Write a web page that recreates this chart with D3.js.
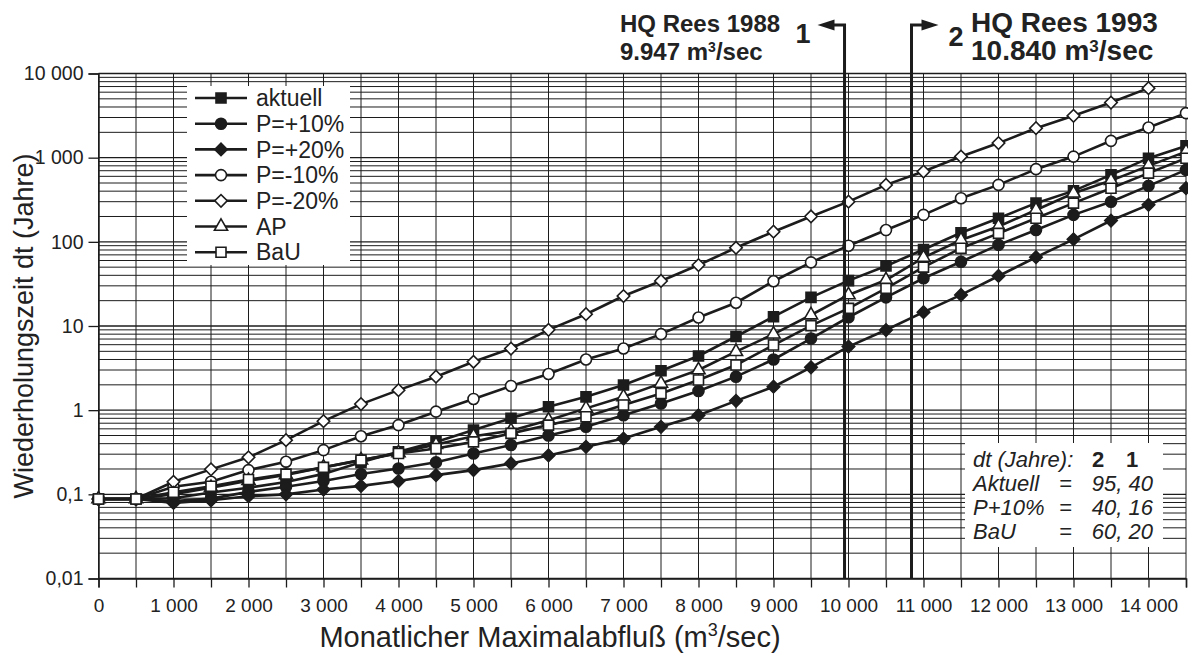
<!DOCTYPE html>
<html>
<head>
<meta charset="utf-8">
<script src="https://cdn.jsdelivr.net/npm/d3@7"></script>
<style>
  body { margin: 0; background: #fff; }
  svg { display: block; font-family: "Liberation Sans", Arial, sans-serif; }
</style>
</head>
<body>
<svg id="chart" width="1188" height="657"></svg>
<script>
// Abfluss (m3/sec) an den Stützstellen
const abfluss = [0, 500, 1000, 1500, 2000, 2500, 3000, 3500, 4000, 4500, 5000, 5500, 6000, 6500, 7000,
  7500, 8000, 8500, 9000, 9500, 10000, 10500, 11000, 11500, 12000, 12500, 13000, 13500, 14000, 14500];

// Wiederholungszeit (Jahre) je Szenario
const aktuell = [0.088, 0.088, 0.09, 0.105, 0.12, 0.14, 0.175, 0.24, 0.32, 0.42, 0.58, 0.80, 1.10, 1.44, 1.99,
  2.94, 4.4, 7.5, 12.9, 21.9, 34.6, 51.7, 81, 128, 191, 288, 403, 625, 986, 1380];
const pPlus10 = [0.088, 0.088, 0.083, 0.089, 0.107, 0.123, 0.144, 0.174, 0.203, 0.24, 0.306, 0.385, 0.50, 0.635, 0.87,
  1.2, 1.69, 2.5, 4.0, 7.1, 12.7, 21.9, 36.9, 58, 92, 138, 209, 300, 462, 716];
const pPlus20 = [0.088, 0.088, 0.079, 0.085, 0.095, 0.10, 0.114, 0.126, 0.144, 0.169, 0.194, 0.233, 0.29, 0.367, 0.46,
  0.635, 0.87, 1.29, 1.9, 3.23, 5.7, 8.96, 14.6, 23.4, 39.3, 65.6, 107, 179, 275, 434];
const pMinus10 = [0.088, 0.088, 0.123, 0.141, 0.194, 0.244, 0.335, 0.49, 0.665, 0.96, 1.36, 1.94, 2.69, 4.0, 5.4,
  8.0, 12.6, 18.9, 34, 57, 90, 138, 209, 330, 475, 730, 1030, 1585, 2280, 3380];
const pMinus20 = [0.088, 0.088, 0.141, 0.198, 0.275, 0.44, 0.74, 1.18, 1.73, 2.5, 3.76, 5.4, 9.0, 13.8, 22.7,
  34.3, 53, 85, 132, 200, 300, 475, 684, 1030, 1490, 2240, 3140, 4520, 6700];
const ap = [0.088, 0.088, 0.10, 0.12, 0.145, 0.17, 0.21, 0.255, 0.31, 0.39, 0.49, 0.57, 0.76, 1.05, 1.44,
  2.08, 3.0, 4.95, 8.0, 13.5, 23.4, 35.2, 65, 105, 152, 239, 378, 534, 799, 1180];
const bau = [0.088, 0.088, 0.106, 0.125, 0.15, 0.174, 0.209, 0.255, 0.306, 0.35, 0.42, 0.53, 0.665, 0.835, 1.15,
  1.58, 2.28, 3.44, 5.94, 10.1, 16.2, 28, 50, 84, 126, 191, 288, 434, 655, 986];

const serienNamen = ["aktuell", "P=+10%", "P=+20%", "P=-10%", "P=-20%", "AP", "BaU"];
const yTicks = [0.01, 0.1, 1, 10, 100, 1000, 10000];
const yTickLabels = ["0,01", "0,1", "1", "10", "100", "1 000", "10 000"];

// Hochwasser Rees
const hq1988 = 9947;
const hq1993 = 10840;

// Hinweiskasten: dt (Jahre) bei HQ 2 und 1
const notizNamen = ["Aktuell", "P+10%", "BaU"];
const notizWerte = ["95, 40", "40, 16", "60, 20"];

// Tabelle für die Zeichnung
const serien = [
  { name: serienNamen[0], values: aktuell, symbol: "square", filled: true },
  { name: serienNamen[1], values: pPlus10, symbol: "circle", filled: true },
  { name: serienNamen[2], values: pPlus20, symbol: "diamond", filled: true },
  { name: serienNamen[3], values: pMinus10, symbol: "circle", filled: false },
  { name: serienNamen[4], values: pMinus20, symbol: "diamond", filled: false },
  { name: serienNamen[5], values: ap, symbol: "triangle", filled: false },
  { name: serienNamen[6], values: bau, symbol: "square", filled: false }
];

const ink = "#1c1c1c";
const svg = d3.select("#chart");

const pLeft = 98.5, pRight = 1186, pTop = 73.5, pBottom = 578.5;

const x = d3.scaleLinear().domain([0, 14500]).range([pLeft, pRight]);
const y = d3.scaleLog().domain([0.01, 10000]).range([pBottom, pTop]);

const fmtX = d => d3.format(",")(d).replace(",", " ");

// Gitter
const grid = svg.append("g");
const hLines = [];
yTicks.slice(0, -1).forEach(d => {
  for (let k = 1; k <= 9; k++) hLines.push(d * k);
});
hLines.push(10000);
grid.selectAll("line.h")
  .data(hLines)
  .enter().append("line")
    .attr("x1", pLeft).attr("x2", pRight)
    .attr("y1", d => y(d)).attr("y2", d => y(d))
    .style("stroke", ink)
    .style("stroke-width", d => yTicks.includes(d) ? 1.4 : 1);

const vLines = d3.range(0, 14501, 500);
grid.selectAll("line.v")
  .data(vLines)
  .enter().append("line")
    .attr("x1", d => x(d)).attr("x2", d => x(d))
    .attr("y1", pTop).attr("y2", pBottom)
    .style("stroke", ink)
    .style("stroke-width", 1);

// weiße Kästen für Legende und Hinweis
svg.append("rect")
  .attr("x", 187).attr("y", 86).attr("width", 163).attr("height", 179)
  .style("fill", "#fff");
svg.append("rect")
  .attr("x", 965).attr("y", 443).attr("width", 198).attr("height", 104)
  .style("fill", "#fff");

// Achsen
const xAxis = svg.append("g")
  .attr("transform", `translate(0,${pBottom})`)
  .call(d3.axisBottom(x).tickValues(vLines).tickSize(9).tickPadding(11)
    .tickFormat(d => d % 1000 === 0 ? fmtX(d) : ""));
xAxis.select(".domain").style("stroke", ink).style("stroke-width", 1.5);
xAxis.selectAll(".tick line").style("stroke", ink).style("stroke-width", 1.3);
xAxis.selectAll("text").style("font-size", "19px").style("fill", "#222")
  .style("font-family", "\"Liberation Sans\", Arial, sans-serif");

const yAxis = svg.append("g")
  .attr("transform", `translate(${pLeft},0)`)
  .call(d3.axisLeft(y).tickValues(yTicks).tickSize(10).tickPadding(5)
    .tickFormat((d, i) => yTickLabels[i]));
yAxis.select(".domain").style("stroke", ink).style("stroke-width", 1.5);
yAxis.selectAll(".tick line").style("stroke", ink).style("stroke-width", 1.3);
yAxis.selectAll("text").style("font-size", "19.5px").style("fill", "#222")
  .style("font-family", "\"Liberation Sans\", Arial, sans-serif");

// Kurven
svg.append("clipPath").attr("id", "plot")
  .append("rect").attr("x", pLeft - 10).attr("y", pTop - 10).attr("width", pRight - pLeft + 20).attr("height", pBottom - pTop + 10);

const plot = svg.append("g").attr("clip-path", "url(#plot)");
const line = d3.line()
  .x((d, i) => x(abfluss[i]))
  .y(d => y(d));

function symbolPath(kind) {
  if (kind === "square") return d3.symbol(d3.symbolSquare, 100)();
  if (kind === "circle") return d3.symbol(d3.symbolCircle, 95)();
  if (kind === "triangle") return d3.symbol(d3.symbolTriangle, 75)();
  return d3.symbol(d3.symbolSquare, 78)();
}

serien.forEach(s => {
  plot.append("path")
    .datum(s.values)
    .attr("d", line)
    .style("fill", "none")
    .style("stroke", ink)
    .style("stroke-width", 2.6);
});

serien.forEach(s => {
  plot.selectAll(null)
    .data(s.values)
    .enter().append("path")
      .attr("d", symbolPath(s.symbol))
      .attr("transform", (d, i) => `translate(${x(abfluss[i])},${y(d)})` + (s.symbol === "diamond" ? " rotate(45)" : ""))
      .style("fill", s.filled ? ink : "#fff")
      .style("stroke", ink)
      .style("stroke-width", 1.6);
});

// Legende
const legend = svg.append("g");
const lg = legend.selectAll("g")
  .data(serien)
  .enter().append("g")
    .attr("transform", (d, i) => `translate(0,${98 + i * 25.7})`);
lg.append("line")
  .attr("x1", 195).attr("x2", 247)
  .style("stroke", ink).style("stroke-width", 2.6);
lg.append("path")
  .attr("d", d => symbolPath(d.symbol))
  .attr("transform", d => "translate(221,0)" + (d.symbol === "diamond" ? " rotate(45)" : ""))
  .style("fill", d => d.filled ? ink : "#fff")
  .style("stroke", ink)
  .style("stroke-width", 1.6);
lg.append("text")
  .attr("x", 256)
  .attr("dy", "0.36em")
  .style("font-size", "23px")
  .style("fill", "#222")
  .text(d => d.name);

// HQ-Markierungen
const arrowTop = 25;
function hqLine(wert, dir) {
  const xp = x(wert);
  svg.append("path")
    .attr("d", `M${xp},${pBottom}V${arrowTop}H${xp + dir * 12}`)
    .style("fill", "none")
    .style("stroke", ink)
    .style("stroke-width", 3);
  svg.append("path")
    .attr("d", `M${xp + dir * 10},${arrowTop - 5.5}L${xp + dir * 27},${arrowTop}L${xp + dir * 10},${arrowTop + 5.5}Z`)
    .style("fill", ink);
}
hqLine(hq1988, -1);
hqLine(hq1993, 1);

svg.append("text").attr("x", 803).attr("y", 43).attr("text-anchor", "middle")
  .style("font-size", "27px").style("font-weight", "bold").style("fill", "#222").text("1");
svg.append("text").attr("x", 956).attr("y", 46).attr("text-anchor", "middle")
  .style("font-size", "27px").style("font-weight", "bold").style("fill", "#222").text("2");

function hqTitle(xp, jahr, wert, size) {
  svg.append("text").attr("x", xp).attr("y", 32)
    .style("font-size", size + "px").style("font-weight", "bold").style("fill", "#222")
    .text("HQ Rees " + jahr);
  const t2 = svg.append("text").attr("x", xp).attr("y", 60)
    .style("font-size", size + "px").style("font-weight", "bold").style("fill", "#222");
  t2.append("tspan").text(wert + " m");
  t2.append("tspan").attr("dy", -8).style("font-size", Math.round(size * 0.6) + "px").text("3");
  t2.append("tspan").attr("dy", 8).text("/sec");
}
hqTitle(620, "1988", "9.947", 24);
hqTitle(971, "1993", "10.840", 28);

// Hinweiskasten
const note = svg.append("g").style("font-size", "22px").style("fill", "#222").style("font-style", "italic");
const n1 = note.append("text").attr("x", 973).attr("y", 467);
n1.append("tspan").text("dt (Jahre):");
n1.append("tspan").attr("x", 1092).style("font-style", "normal").style("font-weight", "bold").text("2");
n1.append("tspan").attr("x", 1126).style("font-style", "normal").style("font-weight", "bold").text("1");
notizNamen.forEach((name, i) => {
  const t = note.append("text").attr("y", 491 + i * 24);
  t.append("tspan").attr("x", 973).text(name);
  t.append("tspan").attr("x", 1059).text("=");
  t.append("tspan").attr("x", 1153).attr("text-anchor", "end").text(notizWerte[i]);
});

// Achsentitel
const xt = svg.append("text")
  .attr("x", 550).attr("y", 647)
  .attr("text-anchor", "middle")
  .style("font-size", "29px").style("fill", "#222");
xt.append("tspan").text("Monatlicher Maximalabfluß (m");
xt.append("tspan").attr("dy", -11).style("font-size", "18px").text("3");
xt.append("tspan").attr("dy", 11).text("/sec)");

svg.append("text")
  .attr("transform", "translate(33,326) rotate(-90)")
  .attr("text-anchor", "middle")
  .style("font-size", "27px").style("fill", "#222")
  .text("Wiederholungszeit dt (Jahre)");
</script>
</body>
</html>
